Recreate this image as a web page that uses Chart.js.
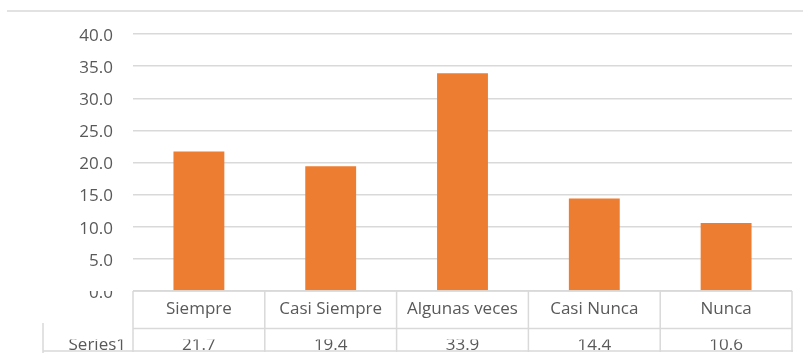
<!DOCTYPE html>
<html>
<head>
<meta charset="utf-8">
<script src="https://cdn.jsdelivr.net/npm/chart.js@4"></script>
<style>
  html, body { margin: 0; padding: 0; background: #fff; }
  canvas { display: block; }
</style>
</head>
<body>
<canvas id="frecuencia" width="803" height="358"></canvas>
<script>
// respuestas por categoría (porcentaje)
const categories = ['Siempre', 'Casi Siempre', 'Algunas veces', 'Casi Nunca', 'Nunca'];
const seriesName = 'Series1';
const values = [21.7, 19.4, 33.9, 14.4, 10.6];
const yMin = 0;
const yMax = 40;
const yStep = 5;

const TEXT = '#595959';
const LINE = '#d9d9d9';
const FONT = '"Open Sans", sans-serif';

// tabla de datos debajo del eje X + marco superior
const dataTable = {
    id: 'dataTable',
    beforeDraw(chart) {
        const ctx = chart.ctx;
        ctx.save();
        ctx.strokeStyle = LINE;
        ctx.lineWidth = 1.5;
        ctx.beginPath();
        ctx.moveTo(7, 11);
        ctx.lineTo(chart.width, 11);
        ctx.stroke();
        ctx.restore();
    },
    afterDraw(chart) {
        const { ctx, chartArea: a, scales: { x } } = chart;
        const top = a.bottom;
        const mid = top + 37.5;
        const bot = top + 60;
        const leftEdge = 43;
        const colW = (a.right - a.left) / categories.length;

        ctx.save();

        // tapa la mitad superior de la etiqueta 0.0
        ctx.fillStyle = '#fff';
        ctx.fillRect(0, top - 12, a.left - 2, 12);

        ctx.strokeStyle = LINE;
        ctx.lineWidth = 1.5;
        ctx.beginPath();
        for (let i = 0; i <= categories.length; i++) {
            const xx = a.left + i * colW;
            ctx.moveTo(xx, top);
            ctx.lineTo(xx, bot + 1);
        }
        ctx.moveTo(a.left, top);
        ctx.lineTo(a.right, top);
        ctx.moveTo(a.left, mid);
        ctx.lineTo(a.right, mid);
        ctx.moveTo(leftEdge, bot);
        ctx.lineTo(a.right + 1, bot);
        ctx.moveTo(leftEdge, bot - 28);
        ctx.lineTo(leftEdge, bot + 2);
        ctx.stroke();

        ctx.fillStyle = TEXT;
        ctx.font = '17px ' + FONT;
        ctx.textAlign = 'center';
        ctx.textBaseline = 'alphabetic';
        categories.forEach((c, i) => {
            ctx.fillText(c, x.getPixelForValue(i), top + 23);
        });

        // fila de valores, recortada como en la hoja de cálculo
        ctx.beginPath();
        ctx.rect(leftEdge, mid + 11, a.right - leftEdge, bot - mid - 11);
        ctx.clip();
        ctx.textAlign = 'right';
        ctx.fillText(seriesName, a.left - 7, bot - 1);
        ctx.textAlign = 'center';
        values.forEach((v, i) => {
            ctx.fillText(v.toFixed(1), x.getPixelForValue(i), bot - 1);
        });
        ctx.restore();
    }
};

const ctx = document.getElementById('frecuencia').getContext('2d');
new Chart(ctx, {
    type: 'bar',
    data: {
        labels: categories,
        datasets: [{
            label: seriesName,
            data: values,
            backgroundColor: '#ED7D31',
            barPercentage: 0.386,
            categoryPercentage: 1
        }]
    },
    options: {
        responsive: false,
        animation: false,
        devicePixelRatio: 1,
        layout: {
            padding: { left: 0, right: 11, top: 34, bottom: 67 }
        },
        plugins: {
            legend: { display: false },
            tooltip: { enabled: false }
        },
        scales: {
            x: {
                display: false
            },
            y: {
                min: yMin,
                max: yMax,
                afterFit(scale) { scale.width = 133; },
                border: { display: false },
                grid: {
                    color: LINE,
                    lineWidth: 1.5,
                    drawTicks: false
                },
                ticks: {
                    stepSize: yStep,
                    padding: 20,
                    labelOffset: 2,
                    color: TEXT,
                    font: { family: FONT, size: 17 },
                    callback: v => v.toFixed(1)
                }
            }
        }
    },
    plugins: [dataTable]
});
</script>
</body>
</html>
